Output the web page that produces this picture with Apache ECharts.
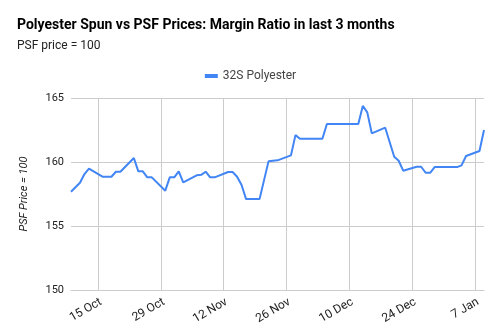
<!DOCTYPE html>
<html><head><meta charset="utf-8">
<script src="https://cdn.jsdelivr.net/npm/echarts@6/dist/echarts.min.js"></script>
<style>html,body{margin:0;padding:0;background:#fff}#c{width:501px;height:336px}</style>
</head><body><div id="c"></div>
<script>
const dates = ['2023-10-09','2023-10-11','2023-10-12','2023-10-13','2023-10-16','2023-10-18','2023-10-19','2023-10-20',
 '2023-10-23','2023-10-24','2023-10-25','2023-10-26','2023-10-27','2023-10-30','2023-10-31','2023-11-01','2023-11-02','2023-11-03',
 '2023-11-06','2023-11-07','2023-11-08','2023-11-09','2023-11-10','2023-11-13','2023-11-14','2023-11-15','2023-11-16','2023-11-17',
 '2023-11-20','2023-11-22','2023-11-24','2023-11-27','2023-11-28','2023-11-29','2023-12-04','2023-12-05','2023-12-12','2023-12-13',
 '2023-12-14','2023-12-15','2023-12-18','2023-12-20','2023-12-21','2023-12-22','2023-12-25','2023-12-26','2023-12-27','2023-12-28',
 '2023-12-29','2024-01-03','2024-01-04','2024-01-05','2024-01-08','2024-01-09'];
const values = [157.68,158.38,159.06,159.48,158.85,158.85,159.24,159.24,
 160.31,159.27,159.27,158.8,158.8,157.76,158.8,158.8,159.27,158.41,
 158.96,159.0,159.24,158.8,158.8,159.22,159.22,158.85,158.2,157.1,
 157.1,160.05,160.13,160.52,162.1,161.82,161.82,162.97,162.97,164.38,
 163.88,162.24,162.68,160.41,160.1,159.32,159.63,159.63,159.16,159.16,
 159.6,159.6,159.74,160.47,160.86,162.5];
const tickDates = ['2023-10-15','2023-10-29','2023-11-12','2023-11-26','2023-12-10','2023-12-24','2024-01-07'];
const yTicks = [150,155,160,165];
const seriesName = '32S Polyester';
const monthNames = ['Jan','Feb','Mar','Apr','May','Jun','Jul','Aug','Sep','Oct','Nov','Dec'];
const DAY = 86400000;
function ts(s){const p=s.split('-');return Date.UTC(+p[0],+p[1]-1,+p[2]);}
const origin = ts(tickDates[0]);
function dayOf(s){return Math.round((ts(s)-origin)/DAY);}
const chart = echarts.init(document.getElementById('c'), null, {renderer:'canvas'});
const font = 'Roboto';
const tickDays = tickDates.map(dayOf);
chart.setOption({
  animation:false,
  backgroundColor:'#fff',
  title:{
    text:'Polyester Spun vs PSF Prices: Margin Ratio in last 3 months',
    subtext:'PSF price = 100',
    left:12, top:17, itemGap:6, padding:[0,5],
    textStyle:{fontFamily:font,fontSize:14,fontWeight:'bold',color:'#000',lineHeight:16},
    subtextStyle:{fontFamily:font,fontSize:12,color:'#222',lineHeight:14}
  },
  legend:{
    top:65, left:'center', icon:'rect', itemWidth:13, itemHeight:4,
    textStyle:{fontFamily:font,fontSize:12,color:'#444'},
    data:[seriesName]
  },
  grid:{left:71,right:17,top:98,bottom:46,containLabel:false},
  xAxis:{
    type:'value',
    min:dayOf(dates[0]), max:dayOf(dates[dates.length-1]),
    axisLine:{show:true,lineStyle:{color:'#ccc'}},
    axisTick:{show:false,customValues:tickDays},
    splitLine:{show:true,lineStyle:{color:'#ccc',width:1}},
    axisLabel:{
      customValues:tickDays, showMinLabel:true, showMaxLabel:true,
      rotate:30, fontFamily:font, fontSize:12, color:'#222', margin:6, verticalAlign:'top',
      formatter:function(v){const d=new Date(origin+v*DAY);return d.getUTCDate()+' '+monthNames[d.getUTCMonth()];}
    }
  },
  yAxis:{
    type:'value', min:yTicks[0], max:yTicks[yTicks.length-1], interval:5,
    name:'PSF Price = 100', nameLocation:'middle', nameGap:41,
    nameTextStyle:{fontFamily:font,fontSize:11,fontStyle:'italic',color:'#222'},
    axisLine:{show:false}, axisTick:{show:false},
    splitLine:{lineStyle:{color:'#ccc',width:1}},
    axisLabel:{fontFamily:font,fontSize:11,color:'#222',margin:7}
  },
  series:[{
    name:seriesName, type:'line', showSymbol:false, symbol:'none',
    data:dates.map((d,i)=>[dayOf(d),values[i]]),
    lineStyle:{color:'#4285F4',width:2}, itemStyle:{color:'#4285F4'}
  }]
});
</script></body></html>
